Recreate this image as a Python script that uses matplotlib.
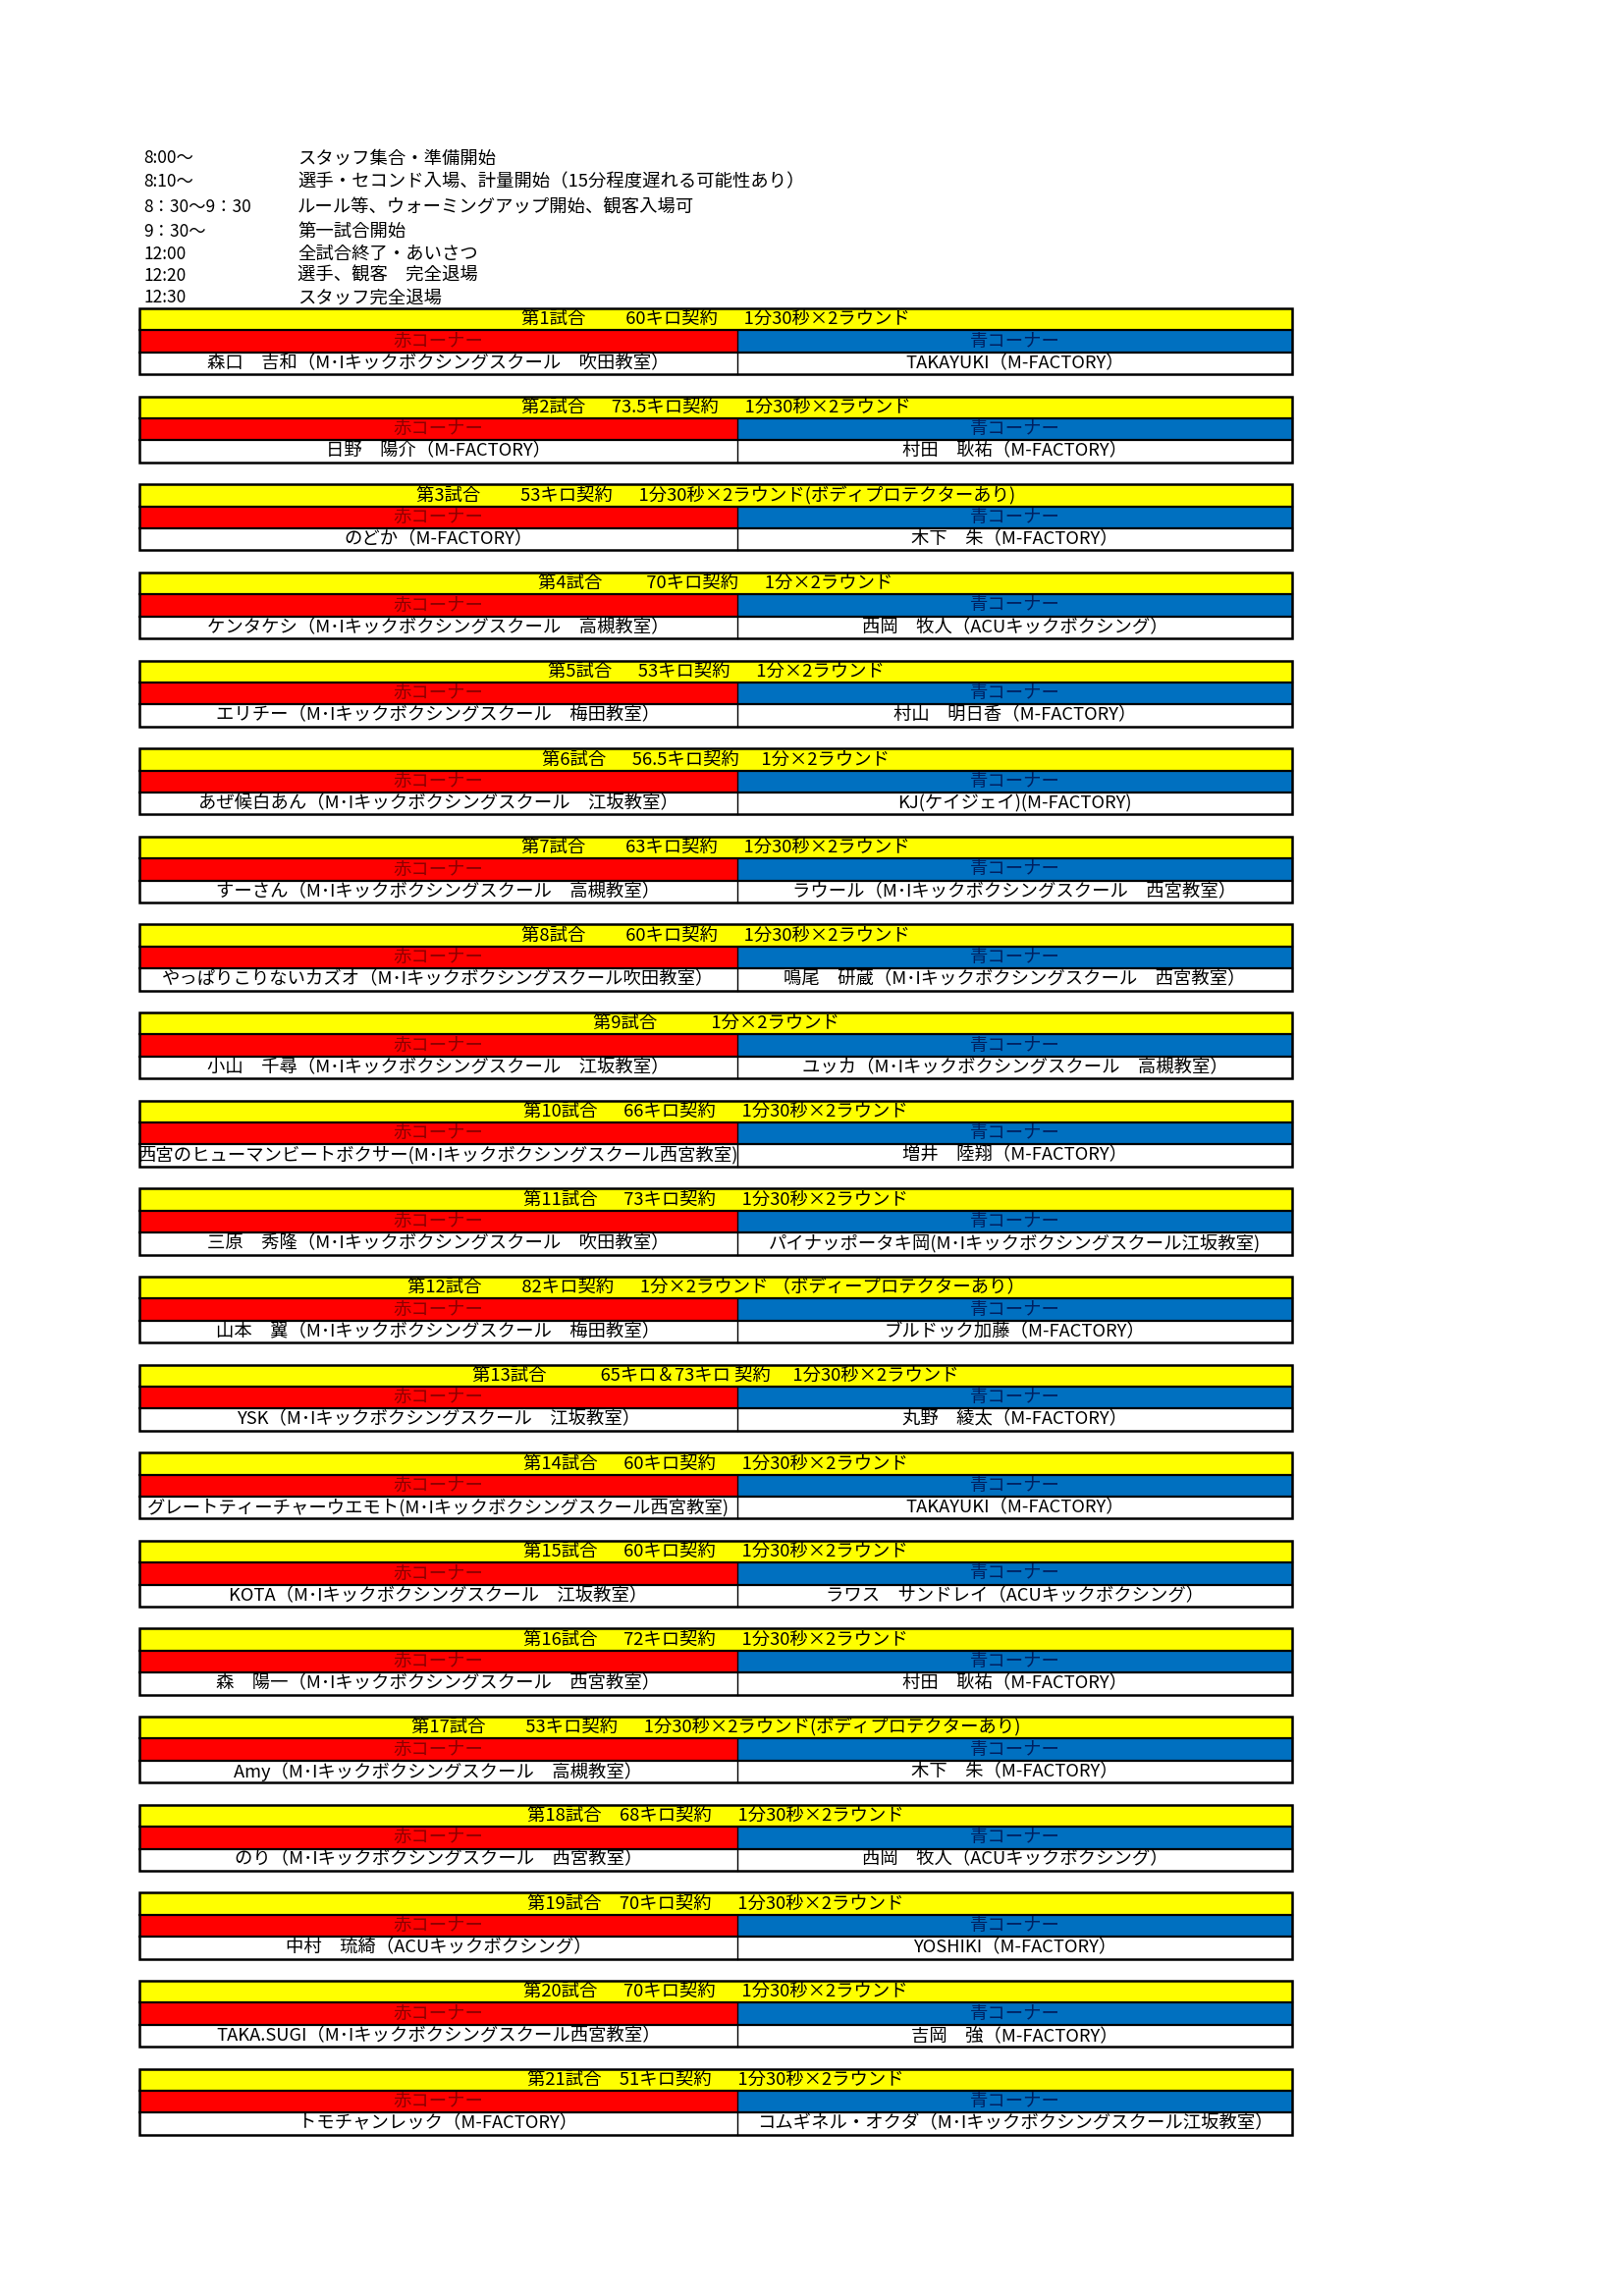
import matplotlib.pyplot as plt
from matplotlib.patches import Rectangle

plt.rcParams['font.family'] = ['Noto Sans CJK JP', 'DejaVu Sans']

# schedule at the top of the sheet
SCHEDULE_TIMES = ['8:00～', '8:10～', '8：30～9：30', '9：30～', '12:00', '12:20', '12:30']
SCHEDULE_ITEMS = ['スタッフ集合・準備開始',
                  '選手・セコンド入場、計量開始（15分程度遅れる可能性あり）',
                  'ルール等、ウォーミングアップ開始、観客入場可',
                  '第一試合開始',
                  '全試合終了・あいさつ',
                  '選手、観客　完全退場',
                  'スタッフ完全退場']

BOUT_HEADERS = [
    '第1試合　　 60キロ契約　  1分30秒×2ラウンド',
    '第2試合　  73.5キロ契約　  1分30秒×2ラウンド',
    '第3試合　　 53キロ契約　  1分30秒×2ラウンド(ボディプロテクターあり)',
    '第4試合　　  70キロ契約　  1分×2ラウンド',
    '第5試合　  53キロ契約　  1分×2ラウンド',
    '第6試合　  56.5キロ契約　 1分×2ラウンド',
    '第7試合　　 63キロ契約　  1分30秒×2ラウンド',
    '第8試合　　 60キロ契約　  1分30秒×2ラウンド',
    '第9試合　　　1分×2ラウンド',
    '第10試合　  66キロ契約　  1分30秒×2ラウンド',
    '第11試合　  73キロ契約　  1分30秒×2ラウンド',
    '第12試合　　 82キロ契約　  1分×2ラウンド （ボディープロテクターあり）',
    '第13試合　　　65キロ＆73キロ 契約　 1分30秒×2ラウンド',
    '第14試合　  60キロ契約　  1分30秒×2ラウンド',
    '第15試合　  60キロ契約　  1分30秒×2ラウンド',
    '第16試合　  72キロ契約　  1分30秒×2ラウンド',
    '第17試合　　 53キロ契約　  1分30秒×2ラウンド(ボディプロテクターあり)',
    '第18試合　68キロ契約　  1分30秒×2ラウンド',
    '第19試合　70キロ契約　  1分30秒×2ラウンド',
    '第20試合　  70キロ契約　  1分30秒×2ラウンド',
    '第21試合　51キロ契約　  1分30秒×2ラウンド',
]

RED_FIGHTERS = [
    '森口　吉和（M･Iキックボクシングスクール　吹田教室）',
    '日野　陽介（M-FACTORY）',
    'のどか（M-FACTORY）',
    'ケンタケシ（M･Iキックボクシングスクール　高槻教室）',
    'エリチー（M･Iキックボクシングスクール　梅田教室）',
    'あぜ候白あん（M･Iキックボクシングスクール　江坂教室）',
    'すーさん（M･Iキックボクシングスクール　高槻教室）',
    'やっぱりこりないカズオ（M･Iキックボクシングスクール吹田教室）',
    '小山　千尋（M･Iキックボクシングスクール　江坂教室）',
    '西宮のヒューマンビートボクサー(M･Iキックボクシングスクール西宮教室)',
    '三原　秀隆（M･Iキックボクシングスクール　吹田教室）',
    '山本　翼（M･Iキックボクシングスクール　梅田教室）',
    'YSK（M･Iキックボクシングスクール　江坂教室）',
    'グレートティーチャーウエモト(M･Iキックボクシングスクール西宮教室)',
    'KOTA（M･Iキックボクシングスクール　江坂教室）',
    '森　陽一（M･Iキックボクシングスクール　西宮教室）',
    'Amy（M･Iキックボクシングスクール　高槻教室）',
    'のり（M･Iキックボクシングスクール　西宮教室）',
    '中村　琉綺（ACUキックボクシング）',
    'TAKA.SUGI（M･Iキックボクシングスクール西宮教室）',
    'トモチャンレック（M-FACTORY）',
]

BLUE_FIGHTERS = [
    'TAKAYUKI（M-FACTORY）',
    '村田　耿祐（M-FACTORY）',
    '木下　朱（M-FACTORY）',
    '西岡　牧人（ACUキックボクシング）',
    '村山　明日香（M-FACTORY）',
    'KJ(ケイジェイ)(M-FACTORY)',
    'ラウール（M･Iキックボクシングスクール　西宮教室）',
    '鳴尾　研蔵（M･Iキックボクシングスクール　西宮教室）',
    'ユッカ（M･Iキックボクシングスクール　高槻教室）',
    '増井　陸翔（M-FACTORY）',
    'パイナッポータキ岡(M･Iキックボクシングスクール江坂教室)',
    'ブルドック加藤（M-FACTORY）',
    '丸野　綾太（M-FACTORY）',
    'TAKAYUKI（M-FACTORY）',
    'ラワス　サンドレイ（ACUキックボクシング）',
    '村田　耿祐（M-FACTORY）',
    '木下　朱（M-FACTORY）',
    '西岡　牧人（ACUキックボクシング）',
    'YOSHIKI（M-FACTORY）',
    '吉岡　強（M-FACTORY）',
    'コムギネル・オクダ（M･Iキックボクシングスクール江坂教室）',
]

RED_LABEL = '赤コーナー'
BLUE_LABEL = '青コーナー'

# page layout in pixels
W, H = 1653, 2338
LEFT, MID, RIGHT = 142, 751, 1316
TOP0, PERIOD, ROW = 314, 89.63, 22.4
FS = 13.2

fig = plt.figure(figsize=(W / 100, H / 100), dpi=100)
ax = fig.add_axes([0, 0, 1, 1])
ax.set_xlim(0, W)
ax.set_ylim(H, 0)
ax.axis('off')

sched_y = [161.5, 185.5, 211, 236, 258.5, 281, 303.5]
for y, t, item in zip(sched_y, SCHEDULE_TIMES, SCHEDULE_ITEMS):
    ax.text(146, y, t, fontsize=FS - 0.7, va='center', ha='left')
    ax.text(303, y, item, fontsize=FS, va='center', ha='left')

for i, (hdr, red, blue) in enumerate(zip(BOUT_HEADERS, RED_FIGHTERS, BLUE_FIGHTERS)):
    top = TOP0 + PERIOD * i
    # cell fills
    ax.add_patch(Rectangle((LEFT, top), RIGHT - LEFT, ROW, facecolor='#FFFF00', edgecolor='none'))
    ax.add_patch(Rectangle((LEFT, top + ROW), MID - LEFT, ROW, facecolor='#FF0000', edgecolor='none'))
    ax.add_patch(Rectangle((MID, top + ROW), RIGHT - MID, ROW, facecolor='#0070C0', edgecolor='none'))
    ax.add_patch(Rectangle((LEFT, top + 2 * ROW), RIGHT - LEFT, ROW, facecolor='white', edgecolor='none'))
    # grid lines
    ax.plot([LEFT, RIGHT], [top + ROW, top + ROW], color='black', lw=1.6)
    ax.plot([LEFT, RIGHT], [top + 2 * ROW, top + 2 * ROW], color='black', lw=1.6)
    ax.plot([MID, MID], [top + ROW, top + 3 * ROW], color='black', lw=1.0)
    ax.add_patch(Rectangle((LEFT, top), RIGHT - LEFT, 3 * ROW, facecolor='none',
                           edgecolor='black', lw=1.8))
    # texts
    ax.text((LEFT + RIGHT) / 2, top + ROW / 2, hdr, fontsize=FS, ha='center', va='center')
    ax.text((LEFT + MID) / 2, top + 1.5 * ROW, RED_LABEL, fontsize=FS, ha='center',
            va='center', color='#8B0000')
    ax.text((MID + RIGHT) / 2, top + 1.5 * ROW, BLUE_LABEL, fontsize=FS, ha='center',
            va='center', color='#002060')
    cell = Rectangle((LEFT, top + 2 * ROW), MID - LEFT, ROW, transform=ax.transData)
    t = ax.text((LEFT + MID) / 2, top + 2.5 * ROW, red, fontsize=FS, ha='center', va='center')
    t.set_clip_path(cell)
    cell = Rectangle((MID, top + 2 * ROW), RIGHT - MID, ROW, transform=ax.transData)
    t = ax.text((MID + RIGHT) / 2, top + 2.5 * ROW, blue, fontsize=FS, ha='center', va='center')
    t.set_clip_path(cell)

fig.savefig('out.png', dpi=100)
